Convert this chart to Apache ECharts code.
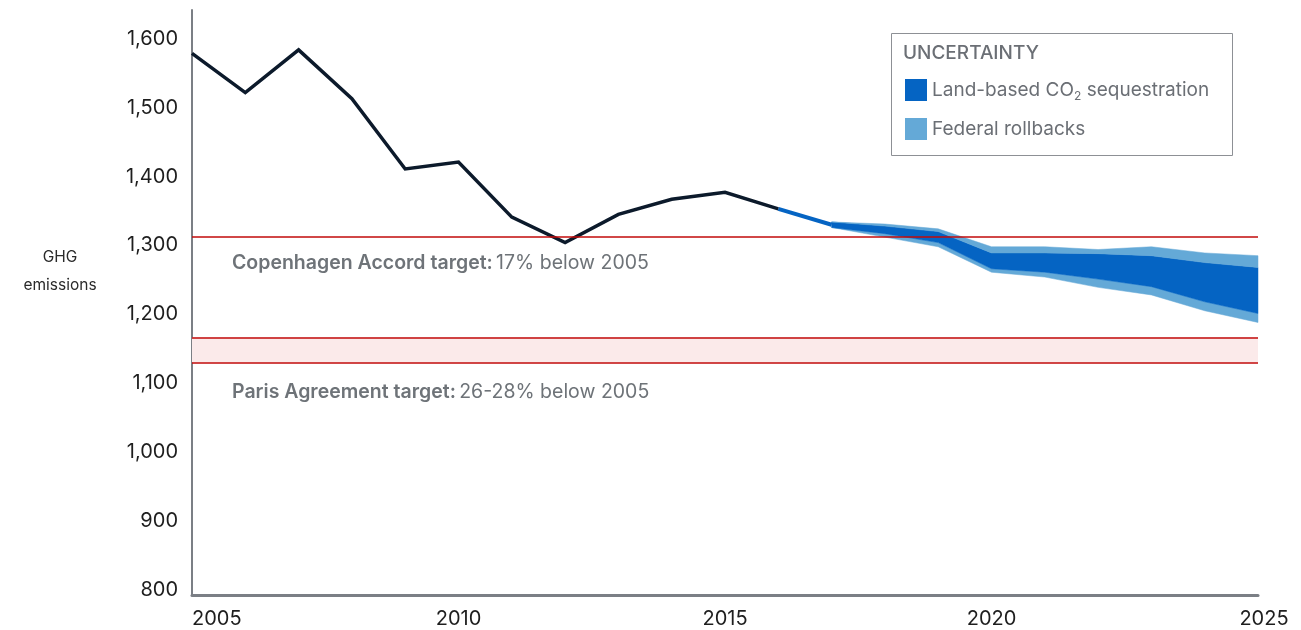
<!DOCTYPE html>
<html>
<head>
<meta charset="utf-8">
<script src="https://cdn.jsdelivr.net/npm/echarts@6/dist/echarts.min.js"></script>
<style>
html,body{margin:0;padding:0;background:#fff;}
#chart{width:1301px;height:630px;}
</style>
</head>
<body>
<div id="chart"></div>
<script>
// ---- Data ----
const histYears = [2005, 2006, 2007, 2008, 2009, 2010, 2011, 2012, 2013, 2014, 2015, 2016];
const histEmissions = [1579, 1522, 1584, 1513, 1411, 1421, 1341, 1304, 1345, 1367, 1377, 1353];
const projYears = [2016, 2017];
const projEmissions = [1353, 1330];
const bandYears = [2017, 2018, 2019, 2020, 2021, 2022, 2023, 2024, 2025];
const outerTop    = [1334, 1331, 1324, 1298, 1298, 1294, 1298, 1289, 1285];
const innerTop    = [1334, 1328, 1320, 1289, 1289, 1288, 1285, 1275, 1268];
const innerBottom = [1326, 1317, 1304, 1266, 1261, 1251, 1240, 1218, 1201];
const outerBottom = [1326, 1312, 1298, 1261, 1254, 1239, 1228, 1205, 1188];
const copenhagenTarget = 1313;
const parisTargetHigh = 1166;
const parisTargetLow = 1130;
const yTickLabels = [800, 900, 1000, 1100, 1200, 1300, 1400, 1500, 1600];
const xTickLabels = [2005, 2010, 2015, 2020, 2025];
const darkName = 'Land-based CO₂ sequestration';
const lightName = 'Federal rollbacks';

const FONT = 'Inter, "Noto Sans", sans-serif';
const DARK_BLUE = '#0564c3';
const LIGHT_BLUE = '#64a9d7';
const NOTE_GRAY = '#6e7378';

const pair = (xs, ys) => xs.map((x, i) => [x, ys[i]]);

// a filled band between two boundary arrays, drawn through the chart's scales
function bandSeries(name, lower, upper, color) {
  return {
    name: name, type: 'custom', z: 2, silent: true,
    itemStyle: { color: color },
    encode: { x: 0, y: [1, 2] },
    data: bandYears.map((x, i) => [x, lower[i], upper[i]]),
    renderItem: function (params, api) {
      if (params.dataIndex !== 0) return null;
      const topPts = bandYears.map((x, i) => api.coord([x, upper[i]]));
      const botPts = bandYears.map((x, i) => api.coord([x, lower[i]])).reverse();
      return {
        type: 'polygon',
        shape: { points: topPts.concat(botPts) },
        style: { fill: color, stroke: color, lineWidth: 0.5 }
      };
    }
  };
}

const chart = echarts.init(document.getElementById('chart'));
const option = {
  animation: false,
  textStyle: { fontFamily: FONT },
  grid: { left: 192, right: 43, top: 10, bottom: 35, containLabel: false },
  xAxis: {
    type: 'value', min: 2005, max: 2025, interval: 5,
    axisLine: { show: true, lineStyle: { color: '#7b7f85', width: 3 } },
    axisTick: { show: false },
    splitLine: { show: false },
    axisLabel: {
      margin: 14, color: '#1e1e1e', fontSize: 20, fontFamily: FONT,
      alignMinLabel: 'left',
      formatter: v => xTickLabels.includes(v) ? (v === 2025 ? '{m|' + v + '}' : String(v)) : '',
      rich: { m: { fontSize: 20, fontFamily: FONT, color: '#1e1e1e', padding: [0, 0, 0, 12] } }
    }
  },
  yAxis: {
    type: 'value', min: 792, max: 1642, interval: 4,
    axisLine: { show: true, lineStyle: { color: '#7b7f85', width: 2 } },
    axisTick: { show: false },
    splitLine: { show: false },
    axisLabel: {
      margin: 14, color: '#1e1e1e', fontSize: 20, fontFamily: FONT,
      formatter: v => yTickLabels.includes(v) ? v.toLocaleString('en-US') : ''
    }
  },
  legend: {
    orient: 'vertical', left: 900, top: 74,
    itemWidth: 22, itemHeight: 22, itemGap: 16, icon: 'rect',
    data: [darkName, lightName],
    selectedMode: false,
    formatter: n => n.replace('₂', '{sub|2}'),
    textStyle: {
      color: '#6b6f75', fontSize: 19, fontFamily: FONT,
      rich: { sub: { fontSize: 12, color: '#6b6f75', fontFamily: FONT, verticalAlign: 'bottom', padding: [12, 0, 0, 0] } }
    }
  },
  title: {
    text: 'UNCERTAINTY', left: 898, top: 39,
    textStyle: { color: '#6b6f75', fontSize: 19, fontWeight: 500, fontFamily: FONT }
  },
  graphic: [
    { type: 'rect', shape: { x: 891.5, y: 33.5, width: 341, height: 122 },
      style: { fill: 'none', stroke: '#8d9095', lineWidth: 1 }, z: 1 },
    { type: 'text', x: 60, y: 271,
      style: { text: 'GHG\nemissions', fill: '#2a2a2a', fontSize: 15.5, fontFamily: FONT,
               align: 'center', verticalAlign: 'middle', lineHeight: 28 } },
    { type: 'text', x: 232, y: 263,
      style: { text: '{b|Copenhagen Accord target:} {n|17% below 2005}', verticalAlign: 'middle',
               rich: { b: { fontWeight: 600, fontSize: 19.5, fill: NOTE_GRAY, fontFamily: FONT },
                       n: { fontSize: 19.5, fill: NOTE_GRAY, fontFamily: FONT } } } },
    { type: 'text', x: 232, y: 392,
      style: { text: '{b|Paris Agreement target:} {n|26-28% below 2005}', verticalAlign: 'middle',
               rich: { b: { fontWeight: 600, fontSize: 19.5, fill: NOTE_GRAY, fontFamily: FONT },
                       n: { fontSize: 19.5, fill: NOTE_GRAY, fontFamily: FONT } } } }
  ],
  series: [
    bandSeries(lightName, outerBottom, innerBottom, LIGHT_BLUE),
    bandSeries(darkName, innerBottom, innerTop, DARK_BLUE),
    bandSeries(lightName, innerTop, outerTop, LIGHT_BLUE),
    { name: 'Projection', type: 'line', data: pair(projYears, projEmissions),
      showSymbol: false, lineStyle: { color: DARK_BLUE, width: 4 }, z: 3, silent: true },
    { name: 'Emissions', type: 'line', data: pair(histYears, histEmissions),
      showSymbol: false, lineStyle: { color: '#0c1a2b', width: 3.5, join: 'miter' }, z: 4, silent: true,
      markArea: {
        silent: true,
        itemStyle: { color: '#fbeaea' },
        data: [[{ yAxis: parisTargetLow }, { yAxis: parisTargetHigh }]]
      }
    },
    { name: 'Targets', type: 'line', data: [], z: 6, silent: true,
      markLine: {
        silent: true, symbol: 'none', label: { show: false },
        lineStyle: { color: '#c20a0a', width: 1.5, type: 'solid' },
        data: [{ yAxis: copenhagenTarget }, { yAxis: parisTargetHigh }, { yAxis: parisTargetLow }]
      }
    }
  ]
};
chart.setOption(option);
</script>
</body>
</html>
